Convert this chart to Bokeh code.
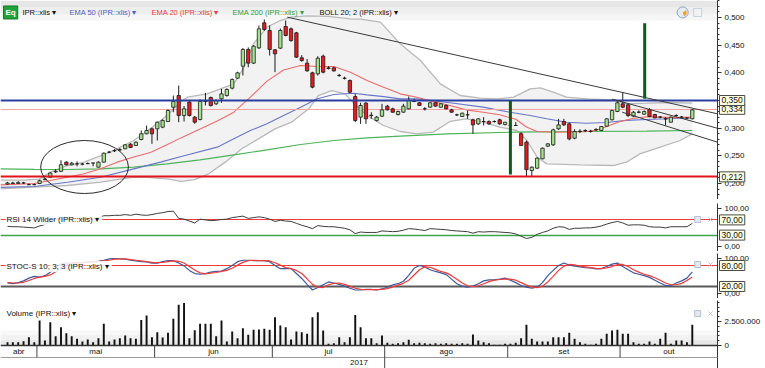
from bokeh.plotting import figure
from bokeh.models import Range1d, FixedTicker, CustomJSTickFormatter, Label, BoxAnnotation, GridBox
from bokeh.layouts import column
from bokeh.embed import file_html
from bokeh.resources import INLINE
from bokeh.core.properties import value

FONT = "Liberation Sans"

# ---------------------------------------------------------------- data
month_names = ["abr", "mai", "jun", "jul", "ago", "set", "out"]
month_counts = [6, 22, 22, 21, 23, 21, 14]
year_label = "2017"

open_ = [0.199, 0.200, 0.200, 0.201, 0.198, 0.198, 0.200, 0.207, 0.211, 0.221,
         0.222, 0.2386, 0.2337, 0.2355, 0.235, 0.236, 0.237, 0.2295, 0.2386, 0.2566,
         0.259, 0.261, 0.2627, 0.271, 0.2687, 0.2795, 0.2898, 0.2988, 0.2988, 0.3018,
         0.312, 0.3379, 0.359, 0.3229, 0.347, 0.3199, 0.3157, 0.349, 0.3554, 0.344,
         0.353, 0.359, 0.3723, 0.3904, 0.412, 0.4422, 0.4175, 0.4452, 0.4904, 0.4765,
         0.4416, 0.4446, 0.4837, 0.4795, 0.4723, 0.4271, 0.4175, 0.400, 0.3982, 0.4301,
         0.409, 0.409, 0.3955, 0.3904, 0.3861, 0.357, 0.3199, 0.3452, 0.3229, 0.3139,
         0.3217, 0.3398, 0.3349, 0.3247, 0.3289, 0.3349, 0.349, 0.3458, 0.335, 0.3379,
         0.3458, 0.3379, 0.341, 0.3331, 0.3241, 0.3211, 0.3241, 0.3151, 0.3078, 0.312,
         0.312, 0.312, 0.3151, 0.3066, 0.305, 0.3048, 0.2898, 0.2747, 0.2235, 0.2277,
         0.2446, 0.2675, 0.2699, 0.2988, 0.312, 0.3078, 0.2819, 0.294, 0.2955, 0.294,
         0.297, 0.2958, 0.3036, 0.3151, 0.3301, 0.344, 0.3422, 0.3217, 0.329, 0.3253,
         0.3337, 0.3247, 0.3199, 0.317, 0.3108, 0.3229, 0.3199, 0.3181, 0.3169]
high_ = [0.203, 0.203, 0.204, 0.203, 0.200, 0.200, 0.207, 0.210, 0.220, 0.226,
         0.242, 0.240, 0.239, 0.240, 0.237, 0.238, 0.237, 0.240, 0.256, 0.259,
         0.262, 0.264, 0.271, 0.273, 0.276, 0.2958, 0.3048, 0.301, 0.312, 0.316,
         0.334, 0.359, 0.377, 0.340, 0.350, 0.322, 0.352, 0.3638, 0.357, 0.352,
         0.371, 0.372, 0.390, 0.402, 0.445, 0.446, 0.450, 0.4855, 0.4964, 0.4855,
         0.443, 0.480, 0.4946, 0.482, 0.474, 0.432, 0.425, 0.402, 0.430, 0.433,
         0.412, 0.411, 0.398, 0.393, 0.388, 0.362, 0.346, 0.347, 0.3289, 0.322,
         0.344, 0.342, 0.337, 0.332, 0.344, 0.3572, 0.353, 0.347, 0.338, 0.347,
         0.347, 0.345, 0.343, 0.335, 0.326, 0.328, 0.3319, 0.317, 0.318, 0.3199,
         0.314, 0.314, 0.317, 0.311, 0.307, 0.311, 0.2928, 0.2777, 0.231, 0.247,
         0.265, 0.273, 0.299, 0.3169, 0.3169, 0.310, 0.298, 0.298, 0.298, 0.297,
         0.300, 0.304, 0.318, 0.3335, 0.350, 0.365, 0.345, 0.331, 0.332, 0.332,
         0.336, 0.326, 0.322, 0.320, 0.321, 0.325, 0.322, 0.320, 0.334]
low_ = [0.198, 0.199, 0.199, 0.199, 0.197, 0.197, 0.199, 0.206, 0.210, 0.219,
        0.221, 0.233, 0.233, 0.231, 0.233, 0.235, 0.231, 0.229, 0.238, 0.255,
        0.257, 0.259, 0.262, 0.264, 0.268, 0.278, 0.289, 0.2717, 0.2777, 0.300,
        0.311, 0.3289, 0.3108, 0.312, 0.321, 0.308, 0.314, 0.341, 0.339, 0.342,
        0.3458, 0.357, 0.370, 0.389, 0.3952, 0.410, 0.416, 0.443, 0.476, 0.4313,
        0.4012, 0.443, 0.466, 0.456, 0.427, 0.420, 0.402, 0.372, 0.395, 0.399,
        0.406, 0.402, 0.393, 0.388, 0.363, 0.311, 0.3078, 0.3078, 0.3169, 0.312,
        0.320, 0.332, 0.328, 0.323, 0.328, 0.334, 0.347, 0.340, 0.332, 0.337,
        0.339, 0.337, 0.334, 0.328, 0.322, 0.320, 0.3169, 0.2898, 0.306, 0.3048,
        0.306, 0.310, 0.306, 0.305, 0.303, 0.304, 0.2687, 0.2126, 0.212, 0.226,
        0.244, 0.266, 0.268, 0.297, 0.304, 0.278, 0.280, 0.291, 0.293, 0.292,
        0.295, 0.295, 0.303, 0.314, 0.329, 0.336, 0.320, 0.320, 0.327, 0.324,
        0.320, 0.318, 0.318, 0.305, 0.310, 0.321, 0.318, 0.317, 0.316]
close_ = [0.201, 0.201, 0.202, 0.201, 0.198, 0.198, 0.205, 0.208, 0.219, 0.222,
          0.234, 0.2337, 0.2367, 0.2355, 0.235, 0.236, 0.237, 0.2386, 0.2548, 0.2566,
          0.2596, 0.2608, 0.2699, 0.2651, 0.2747, 0.2898, 0.2958, 0.2898, 0.3108, 0.3139,
          0.3319, 0.3482, 0.3229, 0.3349, 0.3229, 0.3108, 0.3482, 0.348, 0.341, 0.350,
          0.362, 0.3699, 0.3879, 0.400, 0.4422, 0.4175, 0.4482, 0.4795, 0.4783, 0.4422,
          0.4343, 0.4765, 0.4675, 0.4584, 0.4283, 0.4223, 0.4036, 0.3741, 0.4265, 0.4012,
          0.408, 0.4036, 0.395, 0.390, 0.365, 0.3139, 0.341, 0.3169, 0.3235, 0.3199,
          0.3331, 0.3331, 0.3289, 0.3301, 0.3398, 0.350, 0.3482, 0.341, 0.3349, 0.3458,
          0.3398, 0.344, 0.3349, 0.3289, 0.3241, 0.3271, 0.3241, 0.306, 0.3169, 0.312,
          0.3078, 0.312, 0.3078, 0.3108, 0.305, 0.3048, 0.2687, 0.2250, 0.2295, 0.2458,
          0.2638, 0.2717, 0.297, 0.306, 0.306, 0.2807, 0.294, 0.2945, 0.2958, 0.2945,
          0.2976, 0.303, 0.3169, 0.3319, 0.3458, 0.3379, 0.3229, 0.3289, 0.3289, 0.3301,
          0.3211, 0.3187, 0.3199, 0.3165, 0.3199, 0.3229, 0.3199, 0.3181, 0.3331]
volume = [347000, 347000, 347000, 451000, 868000, 347000, 2600000, 521000, 2430000, 972000,
          1910000, 1280000, 972000, 694000, 417000, 625000, 347000, 764000, 2260000, 417000,
          625000, 764000, 1040000, 764000, 694000, 2670000, 3120000, 868000, 1390000, 833000,
          1320000, 2780000, 4240000, 4440000, 764000, 1600000, 2260000, 2260000, 2260000, 972000,
          2600000, 417000, 1460000, 764000, 1810000, 1110000, 1630000, 1670000, 1740000, 1630000,
          2950000, 2080000, 1910000, 625000, 1460000, 1390000, 1220000, 2950000, 3470000, 1560000,
          174000, 243000, 868000, 347000, 868000, 3190000, 1910000, 764000, 764000, 243000,
          1040000, 278000, 174000, 243000, 347000, 590000, 243000, 278000, 243000, 174000,
          243000, 174000, 243000, 174000, 174000, 243000, 174000, 1150000, 521000, 347000,
          243000, 69000, 69000, 174000, 174000, 278000, 764000, 2150000, 694000, 417000,
          417000, 417000, 868000, 868000, 868000, 1320000, 694000, 347000, 174000, 69000,
          174000, 694000, 1220000, 1560000, 1630000, 1220000, 1220000, 347000, 174000, 174000,
          417000, 174000, 694000, 1320000, 174000, 521000, 521000, 347000, 2150000]
rsi = [53, 52, 52, 51, 50, 49, 54, 58, 66, 70,
       76, 73, 74, 74, 73, 74, 74, 76, 81, 81,
       82, 82, 84, 82, 85, 83, 82, 84, 87, 89,
       92, 93, 74, 72, 67, 62, 72, 70, 68, 69,
       71, 72, 76, 78, 80, 74, 76, 78, 76, 72,
       66, 69, 67, 66, 61, 56, 52, 47, 55, 53,
       52, 52, 50, 48, 44, 34, 38, 37, 37, 37,
       41, 40, 39, 40, 43, 47, 46, 44, 42, 47,
       46, 45, 44, 42, 41, 40, 39, 35, 39, 38,
       39, 39, 38, 37, 36, 33, 27, 21, 24, 32,
       37, 41, 48, 52, 51, 45, 48, 48, 49, 49,
       51, 54, 59, 63, 66, 62, 56, 57, 57, 56,
       52, 51, 51, 49, 52, 52, 52, 52, 61]
stoch_k = [30, 28, 31, 36, 44, 49, 47, 51, 61, 74,
           85, 87, 87, 88, 88, 90, 91, 92, 95, 99,
           100, 99, 98, 95, 93, 91, 90, 87, 87, 91,
           94, 94, 87, 79, 66, 57, 55, 57, 61, 63,
           64, 71, 80, 91, 95, 95, 94, 94, 94, 91,
           80, 71, 71, 71, 57, 43, 26, 10, 17, 25,
           33, 30, 26, 21, 15, 10, 10, 12, 12, 10,
           13, 18, 25, 28, 35, 52, 72, 80, 76, 68,
           63, 59, 54, 41, 28, 21, 18, 21, 28, 36,
           39, 39, 41, 44, 38, 31, 23, 18, 15, 18,
           31, 51, 66, 80, 87, 81, 78, 76, 74, 73,
           70, 71, 77, 84, 87, 77, 68, 59, 55, 51,
           46, 38, 30, 23, 22, 30, 36, 44, 62]
stoch_d = [32, 30, 30, 32, 37, 43, 47, 49, 53, 62,
           73, 82, 86, 87, 88, 89, 90, 91, 93, 95,
           98, 99, 99, 97, 95, 93, 91, 89, 88, 89,
           91, 93, 92, 87, 77, 67, 59, 56, 58, 60,
           63, 66, 72, 81, 89, 94, 95, 94, 94, 93,
           88, 81, 74, 71, 66, 57, 42, 26, 18, 17,
           25, 29, 30, 26, 21, 15, 12, 11, 11, 11,
           12, 14, 19, 24, 29, 38, 53, 68, 76, 75,
           69, 63, 59, 51, 41, 30, 22, 20, 22, 28,
           34, 38, 40, 41, 41, 38, 31, 24, 19, 17,
           21, 33, 49, 66, 78, 83, 82, 78, 76, 74,
           72, 71, 73, 77, 83, 83, 77, 68, 61, 55,
           51, 45, 38, 30, 25, 25, 29, 37, 47]

ema20_x = [-1.3, 5, 8, 11.2, 14.3, 17.4, 20.5, 23.6, 26.7, 29.8, 32.3, 36.1, 39.2, 42.3, 45.4,
           48.5, 51.6, 54.8, 57.9, 61, 64.1, 67.2, 70.3, 73.4, 76.5, 79.6, 82.7, 85.8, 88.9, 92,
           95, 97, 99, 102, 105, 108, 110, 112, 114.5, 117, 119.5, 122, 125, 128]
ema20_y = [0.1976, 0.2000, 0.2054, 0.2114, 0.2175, 0.2265, 0.2386, 0.2480, 0.2560, 0.2700,
           0.2820, 0.2988, 0.3130, 0.3289, 0.3560, 0.3850, 0.4050, 0.4132, 0.4114, 0.4114,
           0.4012, 0.3861, 0.3741, 0.3620, 0.3560, 0.3480, 0.3410, 0.3330, 0.3289, 0.3241,
           0.3160, 0.3020, 0.2940, 0.2925, 0.2930, 0.2935, 0.2960, 0.3030, 0.3120, 0.3180,
           0.3205, 0.3200, 0.3190, 0.3200]
ema50_x = [-1.3, 5, 11.2, 17.4, 23.6, 28.6, 33, 39.2, 42.3, 45.4, 48.5, 51.6, 54.8, 57.9, 61,
           64.7, 67.2, 70.3, 73.4, 76.5, 82.7, 88.9, 93.9, 97.7, 100.8, 104.5, 108.2, 112,
           115.7, 119.5, 123.2, 128]
ema50_y = [0.1930, 0.1945, 0.2024, 0.2114, 0.2265, 0.2386, 0.2500, 0.2657, 0.2807, 0.2958,
           0.3078, 0.3230, 0.3379, 0.3530, 0.3608, 0.3632, 0.3602, 0.3570, 0.3530, 0.3530,
           0.3458, 0.3380, 0.3289, 0.3229, 0.3169, 0.3108, 0.3090, 0.3102, 0.3140, 0.3157,
           0.3169, 0.3187]
ema200_x = [-1.3, 5, 11.2, 17.4, 23.6, 29.8, 36, 42.3, 48.5, 54.8, 61, 67.2, 73.4, 82.2, 94.6,
            107, 119.5, 128]
ema200_y = [0.2265, 0.2255, 0.2253, 0.2265, 0.2295, 0.2355, 0.2428, 0.2518, 0.2608, 0.2705,
            0.2777, 0.2825, 0.2855, 0.2898, 0.2928, 0.2940, 0.2946, 0.2958]
boll_up_x = [-1.3, 3, 6, 8, 11, 14.3, 19.2, 23.6, 26.7, 29.8, 32.3, 33.6, 37.3, 42.3, 44.2, 46,
             48.5, 51, 53, 56, 60, 64, 66, 69.7, 73.4, 77.2, 80.9, 84.6, 88.4, 91.5, 94.6,
             97.7, 99.6, 102, 104.5, 108.2, 113.2, 115.7, 119.5, 123.2, 128]
boll_up_y = [0.206, 0.206, 0.208, 0.2205, 0.232, 0.2386, 0.2566, 0.2777, 0.2988, 0.3229,
             0.347, 0.356, 0.362, 0.380, 0.410, 0.4524, 0.4825, 0.4945, 0.5006, 0.503,
             0.502, 0.4976, 0.497, 0.4916, 0.4524, 0.4223, 0.380, 0.359, 0.3542, 0.353,
             0.356, 0.371, 0.3729, 0.365, 0.356, 0.353, 0.3512, 0.344, 0.3452, 0.3464, 0.3452]
boll_lo_x = [-1.3, 4.9, 11.2, 17.4, 23.6, 26, 29.8, 32.5, 35, 37.6, 40.7, 43.8, 46.9, 50, 53.1,
             56.3, 58.1, 60.6, 63.1, 64.5, 67.2, 70.3, 73.4, 76.5, 79.6, 82.7, 85.8, 88.9, 92,
             95.2, 97.1, 99, 100.8, 107, 113.2, 115.7, 118.2, 122, 125.7, 128]
boll_lo_y = [0.1904, 0.1934, 0.1964, 0.2024, 0.2114, 0.2110, 0.2084, 0.2040, 0.2070, 0.2175,
             0.2386, 0.2627, 0.2807, 0.2988, 0.3108, 0.3349, 0.3590, 0.3680, 0.3620, 0.3470,
             0.3229, 0.3048, 0.2940, 0.2898, 0.2928, 0.3121, 0.3169, 0.3108, 0.3018, 0.2958,
             0.2777, 0.2476, 0.2355, 0.2337, 0.2325, 0.2385, 0.2536, 0.2656, 0.2777, 0.2898]

price_levels = [0.350, 0.334, 0.212]          # blue, last price, red support
price_ticks = [0.200, 0.250, 0.300, 0.350, 0.400, 0.450, 0.500]
rsi_levels = [70, 30]
stoch_levels = [80, 20]
osc_ticks = [0, 100]
volume_ticks = [0, 2500000]

trend_x0 = [52.3, 113.0, 114.9]
trend_y0 = [0.5006, 0.3526, 0.3289]
trend_x1 = [133.0, 133.0, 133.0]
trend_y1 = [0.3253, 0.2990, 0.2738]
vline_x = [94.0, 119.1]
vline_y0 = [0.2163, 0.3531]
vline_y1 = [0.3500, 0.4897]
ellipse_x, ellipse_y, ellipse_w, ellipse_h = [14.4], [0.2298], [16.4], [0.0958]

legend_items = ["IPR::xlis", "EMA 50 (IPR::xlis)", "EMA 20 (IPR::xlis)", "EMA 200 (IPR::xlis)",
                "BOLL 20; 2 (IPR::xlis)"]
legend_colors = ["#111111", "#4e5fbf", "#e23c3c", "#2fa345", "#111111"]
legend_px = [22, 69, 151, 232, 319]

# ---------------------------------------------------------------- layout helpers
FW = 717
RB = 48
TOTAL_W = FW + RB
n = len(close_)
idx = list(range(n))
xr = Range1d(-1.308, 132.71)

H_PRICE, H_SEP1, H_RSI, H_SEP2, H_STO, H_SEP3 = 199, 4, 48, 2, 45, 2
H_VOL_DATA, H_TIME = 45, 23            # volume plot height above its baseline, date strip
H_VOL = H_VOL_DATA + H_TIME
PRICE_RANGE = (0.1711, 0.5307)
RSI_RANGE = (-13.16, 113.16)
STO_RANGE = (-14.29, 114.29)
VOL_TOP = 4.69e6
VOL_RANGE = (-VOL_TOP * H_TIME / H_VOL_DATA, VOL_TOP)
TOTAL_H = H_PRICE + H_SEP1 + H_RSI + H_SEP2 + H_STO + H_SEP3 + H_VOL


def base_fig(h, y0, y1, bg="white", axis=True):
    f = figure(frame_width=FW, frame_height=h, x_range=xr, y_range=Range1d(y0, y1),
               x_axis_location=None, y_axis_location="right" if axis else None,
               toolbar_location=None, tools="", output_backend="svg",
               min_border_left=0, min_border_right=RB, min_border_top=0, min_border_bottom=0,
               outline_line_color=None, background_fill_color=bg, border_fill_color=bg)
    f.xgrid.visible = False
    f.ygrid.visible = False
    return f


def style_axis(f, ticks, code, minor=None):
    ax = f.yaxis[0]
    ax.ticker = FixedTicker(ticks=ticks, minor_ticks=minor or [])
    ax.formatter = CustomJSTickFormatter(code=code)
    ax.axis_line_color = "#333333"
    ax.major_tick_line_color = "#333333"
    ax.minor_tick_line_color = "#333333"
    ax.major_tick_out = 4
    ax.major_tick_in = 0
    ax.minor_tick_out = 2
    ax.minor_tick_in = 0
    ax.major_label_text_font = FONT
    ax.major_label_text_font_size = "8px"
    ax.major_label_text_color = "#111111"
    ax.major_label_standoff = 3


def separator(h):
    s = base_fig(h, 0, 1, bg="#5c5c5c", axis=False)
    s.scatter([-5], [0.5], size=1, alpha=0)
    return s


def panel_label(f, y, txt):
    f.add_layout(Label(x=5, y=y, x_units="screen", y_units="data", text=txt + "  \u25be",
                       text_font=FONT, text_font_size="8px", text_color="#111111",
                       text_baseline="middle", background_fill_color="white",
                       background_fill_alpha=0.85, padding=1))


def panel_icons(f, y):
    f.scatter([129.0], [y], marker="square", size=6, fill_color="#e4e9f0", line_color="#b5c0d0")
    f.scatter([131.4], [y], marker="x", size=6, line_color="#c0c8d6")


# ---------------------------------------------------------------- price panel
pp = base_fig(H_PRICE, *PRICE_RANGE)
style_axis(pp, price_ticks, "return tick.toFixed(3).replace('.', ',');",
           [round(0.17 + 0.01 * k, 2) for k in range(37)])

for bot, top, col in [(0.4946, 0.5054, "#f6f6f6"), (0.5054, 0.518, "#eeeeee"), (0.518, None, "#e6e6e6")]:
    kw = dict(bottom=bot, fill_color=col, fill_alpha=1, line_color=None, level="underlay")
    if top is not None:
        kw["top"] = top
    pp.add_layout(BoxAnnotation(**kw))

pp.patch(boll_up_x + boll_lo_x[::-1], boll_up_y + boll_lo_y[::-1],
         fill_color="#f2f2f2", line_color=None)
pp.line(boll_up_x, boll_up_y, line_color="#b9b9b9", line_width=1.3)
pp.line(boll_lo_x, boll_lo_y, line_color="#b9b9b9", line_width=1.3)
pp.line(ema200_x, ema200_y, line_color="#4cb45a", line_width=1.2)
pp.line(ema50_x, ema50_y, line_color="#6877c9", line_width=1.1)
pp.line(ema20_x, ema20_y, line_color="#f06a6a", line_width=1.1)
pp.hspan(y=[price_levels[1]], line_color="#f4a3a3", line_width=1)

body_top = [max(o, c) for o, c in zip(open_, close_)]
body_bot = [min(o, c) for o, c in zip(open_, close_)]
body_col = ["#a3e38c" if c >= o else "#e51c1f" for o, c in zip(open_, close_)]
pp.segment(x0=idx, y0=low_, x1=idx, y1=high_, line_color="#1c1c1c", line_width=1)
pp.vbar(x=idx, width=0.62, top=body_top, bottom=body_bot, fill_color=body_col,
        line_color="#1c1c1c", line_width=0.8)

pp.hspan(y=[price_levels[0]], line_color="#2b3f9e", line_width=2)
pp.hspan(y=[price_levels[2]], line_color="#e3141b", line_width=2)
pp.segment(x0=trend_x0, y0=trend_y0, x1=trend_x1, y1=trend_y1, line_color="#3a3a3a", line_width=1)
pp.segment(x0=vline_x, y0=vline_y0, x1=vline_x, y1=vline_y1, line_color="#0e5c1c", line_width=3)
pp.ellipse(x=ellipse_x, y=ellipse_y, width=ellipse_w, height=ellipse_h,
           fill_color=None, line_color="#2a2a2a", line_width=1)

pp.add_layout(Label(x=3, y=0.5091, x_units="screen", y_units="data", text="Eq",
                    text_font=FONT, text_font_size="8px", text_font_style="bold",
                    text_color="white", text_baseline="middle",
                    background_fill_color="#22a03a", border_line_color="#157a28", padding=2))
for txt, colr, px in zip(legend_items, legend_colors, legend_px):
    pp.add_layout(Label(x=px, y=0.5091, x_units="screen", y_units="data", text=txt + "  \u25be",
                        text_font=FONT, text_font_size="7.5px", text_color=colr,
                        text_baseline="middle"))
pp.scatter([126.2], [0.5091], marker="circle", size=11, fill_color="#e6ecf4", line_color="#8ea2c2")
pp.wedge(x=[126.2], y=[0.5091], radius=4, radius_units="screen", start_angle=-1.2,
         end_angle=0.6, fill_color="#f0a030", line_color=None)
pp.scatter([129.0], [0.5091], marker="square", size=8, fill_color="#f2f2f2", line_color="#c8d0dc")

# ---------------------------------------------------------------- RSI panel
rp = base_fig(H_RSI, *RSI_RANGE)
style_axis(rp, osc_ticks, "return tick.toFixed(2).replace('.', ',');")
rp.hspan(y=[rsi_levels[0]], line_color="#ee3b3b", line_width=1)
rp.hspan(y=[rsi_levels[1]], line_color="#3aa64a", line_width=1.3)
rp.line(idx, rsi, line_color="#3c3c3c", line_width=1)
panel_label(rp, 71.1, "RSI 14 Wilder (IPR::xlis)")
panel_icons(rp, 71.1)

# ---------------------------------------------------------------- Stochastic panel
sp = base_fig(H_STO, *STO_RANGE)
style_axis(sp, osc_ticks, "return tick.toFixed(2).replace('.', ',');")
sp.hspan(y=[stoch_levels[0]], line_color="#ee3b3b", line_width=1)
sp.hspan(y=[stoch_levels[1]], line_color="#5a5a5a", line_width=2)
sp.line(idx, stoch_k, line_color="#3b5b9b", line_width=1.2)
sp.line(idx, stoch_d, line_color="#f03a3a", line_width=1.2)
panel_label(sp, 77.1, "STOC-S 10; 3; 3 (IPR::xlis)")
panel_icons(sp, 82.9)

# ---------------------------------------------------------------- Volume panel (+ date strip below 0)
vp = base_fig(H_VOL, *VOL_RANGE)
style_axis(vp, volume_ticks,
           r"return Math.round(tick).toString().replace(/\B(?=(\d{3})+(?!\d))/g, '.');",
           [500000 * k for k in range(10)])
for top, col in [(1.6e6, "#f8f8f8"), (1.1e6, "#f1f1f1"), (0.55e6, "#e8e8e8")]:
    vp.add_layout(BoxAnnotation(bottom=0, top=top, fill_color=col, fill_alpha=1,
                                line_color=None, level="underlay"))
vp.vbar(x=idx, width=0.36, top=volume, bottom=0, fill_color="#111111", line_color=None)
panel_label(vp, 3.30e6, "Volume (IPR::xlis)")
panel_icons(vp, 3.33e6)

stack = column(pp, separator(H_SEP1), rp, separator(H_SEP2), sp, separator(H_SEP3), vp)

# ---------------------------------------------------------------- overlay
# transparent full-size figure over the stack: value boxes on the axes and the date strip.
# Its extra ranges reproduce the panels' own scales.


def overlay_range(top_px, h, lo, hi):
    per_px = (hi - lo) / h
    end = hi + top_px * per_px
    return Range1d(end - TOTAL_H * per_px, end)


ov = figure(frame_width=TOTAL_W, frame_height=TOTAL_H, x_range=Range1d(0, TOTAL_W),
            y_range=Range1d(0, TOTAL_H), x_axis_location=None, y_axis_location=None,
            toolbar_location=None, tools="", output_backend="svg", min_border=0,
            outline_line_color=None, background_fill_alpha=0, border_fill_alpha=0)
ov.xgrid.visible = False
ov.ygrid.visible = False
TIME_TOP = TOTAL_H - H_TIME
ov.extra_x_ranges = {"idx": Range1d(xr.start, xr.start + (xr.end - xr.start) * TOTAL_W / FW)}
ov.extra_y_ranges = {
    "price": overlay_range(0, H_PRICE, *PRICE_RANGE),
    "rsi": overlay_range(H_PRICE + H_SEP1, H_RSI, *RSI_RANGE),
    "sto": overlay_range(H_PRICE + H_SEP1 + H_RSI + H_SEP2, H_STO, *STO_RANGE),
    "time": overlay_range(TIME_TOP, H_TIME, 0.0, 1.0),
}


def value_box(rng, y, txt):
    ov.add_layout(Label(x=FW + 2, y=y, y_range_name=rng, text=txt,
                        text_font=FONT, text_font_size="8.5px", text_color="#111111",
                        text_baseline="middle", background_fill_color="#ffffe1",
                        border_line_color="#4a4a4a", border_line_width=1, padding=2))


value_box("price", price_levels[1], f"{price_levels[1]:.3f}".replace(".", ","))
value_box("price", price_levels[0], f"{price_levels[0]:.3f}".replace(".", ","))
value_box("price", price_levels[2], f"{price_levels[2]:.3f}".replace(".", ","))
for lv in rsi_levels:
    value_box("rsi", lv, f"{lv:.2f}".replace(".", ","))
for lv in stoch_levels:
    value_box("sto", lv, f"{lv:.2f}".replace(".", ","))

# date strip
cum = []
s = 0
for c in month_counts:
    s += c
    cum.append(s)
bnds = [c - 0.5 for c in cum[:-1]]
starts = [xr.start] + bnds
ends = bnds + [xr.end]
centers = [(a + b) / 2 for a, b in zip(starts, ends)]
tk = dict(x_range_name="idx", y_range_name="time")
ov.segment(x0=[xr.start], y0=[1.0], x1=[xr.end], y1=[1.0], line_color="#333333", line_width=1.5, **tk)
ov.segment(x0=[xr.start], y0=[0.48], x1=[xr.end], y1=[0.48], line_color="#9a9a9a", line_width=1, **tk)
ov.segment(x0=bnds, y0=[0.48] * len(bnds), x1=bnds, y1=[1.0] * len(bnds),
           line_color="#444444", line_width=1, **tk)
ov.segment(x0=[bnds[3]], y0=[0.0], x1=[bnds[3]], y1=[0.48], line_color="#444444", line_width=1, **tk)
ov.text(x=centers, y=[0.72] * len(centers), text=month_names, text_align="center",
        text_baseline="middle", text_font=value(FONT), text_font_size=value("8px"),
        text_color="#111111", **tk)
ov.text(x=[(xr.start + xr.end) / 2], y=[0.24], text=[year_label], text_align="center",
        text_baseline="middle", text_font=value(FONT), text_font_size=value("8px"),
        text_color="#111111", **tk)

layout = GridBox(children=[(stack, 0, 0), (ov, 0, 0)])
open("out.html", "w").write(file_html(layout, INLINE))
